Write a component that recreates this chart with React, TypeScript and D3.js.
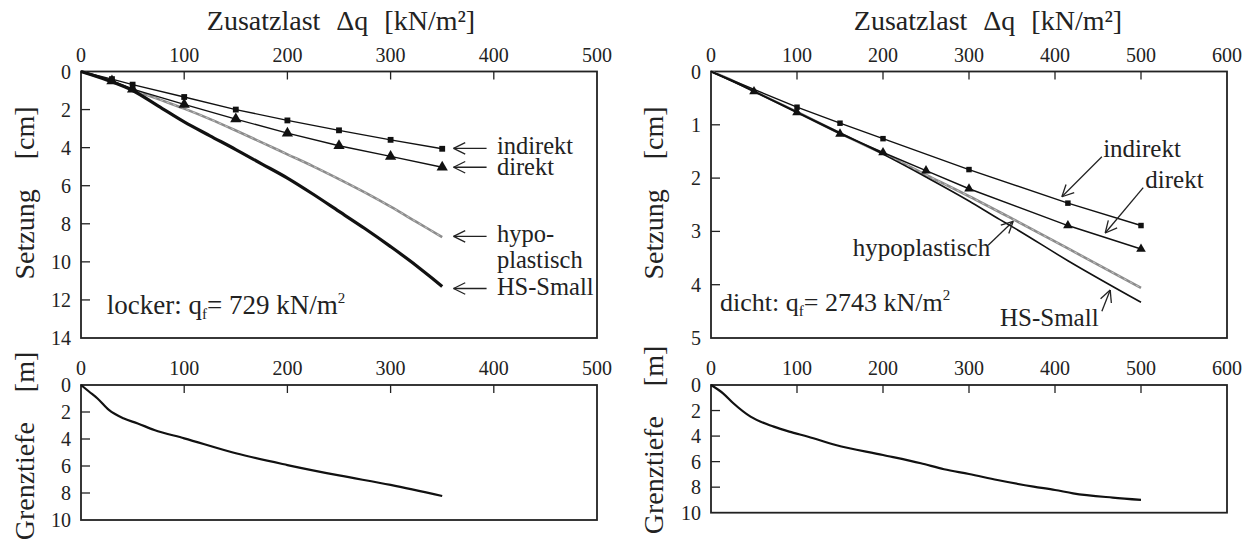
import React, { useEffect, useRef } from 'react';
import * as d3 from 'd3';

// ---------- DATA ----------
// locker (loose) – settlement [cm] vs additional load [kN/m²]
const lockerIndirektQ = [0, 30, 50, 100, 150, 200, 250, 300, 350];
const lockerIndirektS = [0, 0.4, 0.69, 1.34, 2.0, 2.57, 3.09, 3.59, 4.06];
const lockerDirektQ = [0, 30, 50, 100, 150, 200, 250, 300, 350];
const lockerDirektS = [0, 0.5, 0.93, 1.73, 2.5, 3.24, 3.9, 4.46, 5.03];
const lockerHypoQ = [0, 25, 50, 75, 100, 125, 150, 175, 200, 225, 250, 275, 300, 325, 350];
const lockerHypoS = [0, 0.42, 0.95, 1.45, 1.95, 2.5, 3.1, 3.72, 4.35, 4.98, 5.65, 6.35, 7.1, 7.9, 8.7];
const lockerHSQ = [0, 25, 50, 75, 100, 125, 150, 175, 200, 225, 250, 275, 300, 325, 340, 350];
const lockerHSS = [0, 0.45, 1.0, 1.82, 2.65, 3.38, 4.1, 4.85, 5.6, 6.45, 7.35, 8.25, 9.2, 10.2, 10.85, 11.3];
// locker – Grenztiefe [m]
const lockerGrenzQ = [0, 8, 16, 27, 41, 55, 71, 100, 150, 200, 250, 300, 350];
const lockerGrenzD = [0, 0.5, 1.0, 1.85, 2.47, 2.85, 3.33, 3.95, 5.06, 5.93, 6.7, 7.4, 8.22];

// dicht (dense)
const dichtIndirektQ = [0, 100, 150, 200, 300, 415, 500];
const dichtIndirektS = [0, 0.67, 0.97, 1.26, 1.84, 2.47, 2.89];
const dichtDirektQ = [0, 50, 100, 150, 200, 250, 300, 415, 500];
const dichtDirektS = [0, 0.375, 0.77, 1.17, 1.52, 1.86, 2.2, 2.89, 3.33];
const dichtHypoQ = [0, 25, 50, 100, 150, 200, 250, 300, 350, 415, 500];
const dichtHypoS = [0, 0.17, 0.37, 0.76, 1.16, 1.54, 1.94, 2.34, 2.76, 3.32, 4.06];
const dichtHSQ = [0, 25, 50, 100, 150, 200, 250, 300, 336, 350, 415, 500];
const dichtHSS = [0, 0.18, 0.37, 0.76, 1.15, 1.55, 1.98, 2.43, 2.78, 2.91, 3.55, 4.33];
const dichtGrenzQ = [0, 14, 26, 46, 73, 91, 113, 145, 200, 244, 271, 300, 333, 375, 400, 421, 467, 500];
const dichtGrenzD = [0, 0.65, 1.43, 2.48, 3.26, 3.65, 4.05, 4.7, 5.48, 6.13, 6.6, 6.97, 7.44, 7.96, 8.22, 8.48, 8.82, 9.0];

// tick labels
const lockerXTicks = [0, 100, 200, 300, 400, 500];
const dichtXTicks = [0, 100, 200, 300, 400, 500, 600];
const lockerSTicks = [0, 2, 4, 6, 8, 10, 12, 14];
const dichtSTicks = [0, 1, 2, 3, 4, 5];
const grenzTicks = [0, 2, 4, 6, 8, 10];

// text
const xTitle = ['Zusatzlast', 'Δq', '[kN/m²]'];
const sTitle = ['Setzung', '[cm]'];
const gTitle = ['Grenztiefe', '[m]'];

const FONT = "'Liberation Serif', serif";

const zip = (a: number[], b: number[]) => a.map((v, i) => [v, b[i]] as [number, number]);

type Frame = { x0: number; x1: number; y0: number; y1: number; xmax: number; ymax: number; yticks: number[]; xticks: number[] };

function drawFrame(g: any, f: Frame) {
  const x = d3.scaleLinear().domain([0, f.xmax]).range([f.x0, f.x1]);
  const y = d3.scaleLinear().domain([0, f.ymax]).range([f.y0, f.y1]);
  f.xticks.filter((t) => t > 0 && t < f.xmax).forEach((t) => {
    g.append('line').attr('x1', x(t)).attr('x2', x(t)).attr('y1', f.y0).attr('y2', f.y0 + 8)
      .attr('stroke', '#222').attr('stroke-width', 1.3);
  });
  f.yticks.filter((t) => t > 0 && t < f.ymax).forEach((t) => {
    g.append('line').attr('x1', f.x0).attr('x2', f.x0 + 9).attr('y1', y(t)).attr('y2', y(t))
      .attr('stroke', '#222').attr('stroke-width', 1.3);
  });
  g.append('rect').attr('x', f.x0).attr('y', f.y0).attr('width', f.x1 - f.x0).attr('height', f.y1 - f.y0)
    .attr('fill', 'none').attr('stroke', '#222').attr('stroke-width', 1.8);
  f.xticks.forEach((t) => {
    g.append('text').attr('x', x(t)).attr('y', f.y0 - 10).attr('text-anchor', 'middle')
      .style('font-family', FONT).attr('font-size', 20).attr('fill', '#222').text(String(t));
  });
  f.yticks.forEach((t) => {
    g.append('text').attr('x', f.x0 - 10).attr('y', y(t)).attr('dy', '0.35em').attr('text-anchor', 'end')
      .style('font-family', FONT).attr('font-size', 20).attr('fill', '#222').text(String(t));
  });
  return { x, y };
}

function arrow(g: any, x1: number, y1: number, x2: number, y2: number) {
  g.append('line').attr('x1', x1).attr('y1', y1).attr('x2', x2).attr('y2', y2)
    .attr('stroke', '#222').attr('stroke-width', 1.3);
  const ang = Math.atan2(y1 - y2, x1 - x2);
  const L = 13, a = 0.46;
  [ang + a, ang - a].forEach((b) => {
    g.append('line').attr('x1', x2).attr('y1', y2)
      .attr('x2', x2 + L * Math.cos(b)).attr('y2', y2 + L * Math.sin(b))
      .attr('stroke', '#222').attr('stroke-width', 1.3);
  });
}

function label(g: any, x: number, y: number, txt: string, anchor = 'start', size = 25) {
  g.append('text').attr('x', x).attr('y', y).attr('dy', '0.33em').attr('text-anchor', anchor)
    .style('font-family', FONT).attr('font-size', size).attr('fill', '#222').text(txt);
}

function title(g: any, cx: number, baseline: number) {
  const t = g.append('text').attr('x', cx).attr('y', baseline).attr('text-anchor', 'middle')
    .style('font-family', FONT).attr('font-size', 28).attr('fill', '#222');
  t.append('tspan').text(xTitle[0]);
  t.append('tspan').attr('dx', 16).text(xTitle[1]);
  t.append('tspan').attr('dx', 16).text(xTitle[2]);
}

function vtitle(g: any, bx: number, cy: number, parts: string[], gap: number) {
  const t = g.append('text').attr('transform', `translate(${bx},${cy}) rotate(-90)`).attr('text-anchor', 'middle')
    .style('font-family', FONT).attr('font-size', 28).attr('fill', '#222');
  t.append('tspan').text(parts[0]);
  t.append('tspan').attr('dx', gap).text(parts[1]);
}

function qfLabel(g: any, x: number, y: number, pre: string, val: string, size: number) {
  const t = g.append('text').attr('x', x).attr('y', y).style('font-family', FONT).attr('font-size', size).attr('fill', '#222');
  t.append('tspan').text(pre + ' q');
  t.append('tspan').attr('font-size', 15).attr('dy', 5).text('f');
  t.append('tspan').attr('dy', -5).text('= ' + val + ' kN/m');
  t.append('tspan').attr('font-size', 15).attr('dy', -11).text('2');
}

export default function App() {
  const ref = useRef<SVGSVGElement>(null);
  useEffect(() => {
    const svg = d3.select(ref.current);
    svg.selectAll('*').remove();
    const g = svg.append('g');

    const line = (x: any, y: any) => d3.line<[number, number]>().x((d) => x(d[0])).y((d) => y(d[1]));
    const smooth = (x: any, y: any) => d3.line<[number, number]>().x((d) => x(d[0])).y((d) => y(d[1])).curve(d3.curveMonotoneX);

    // ===== LEFT TOP (locker) =====
    const L = drawFrame(g, { x0: 81, x1: 597, y0: 71.5, y1: 338, xmax: 500, ymax: 14, yticks: lockerSTicks, xticks: lockerXTicks });
    title(g, 341, 30);
    vtitle(g, 34, 193, sTitle, 30);
    g.append('path').attr('d', smooth(L.x, L.y)(zip(lockerHypoQ, lockerHypoS))).attr('fill', 'none')
      .attr('stroke', '#8c8c8c').attr('stroke-width', 2.6);
    g.append('path').attr('d', smooth(L.x, L.y)(zip(lockerHypoQ, lockerHypoS))).attr('fill', 'none')
      .attr('stroke', '#cfcfcf').attr('stroke-width', 0.8).attr('stroke-dasharray', '3 4');
    g.append('path').attr('d', smooth(L.x, L.y)(zip(lockerHSQ, lockerHSS))).attr('fill', 'none')
      .attr('stroke', '#111').attr('stroke-width', 3.2);
    g.append('path').attr('d', line(L.x, L.y)(zip(lockerIndirektQ, lockerIndirektS))).attr('fill', 'none')
      .attr('stroke', '#111').attr('stroke-width', 1.4);
    g.append('path').attr('d', line(L.x, L.y)(zip(lockerDirektQ, lockerDirektS))).attr('fill', 'none')
      .attr('stroke', '#111').attr('stroke-width', 1.4);
    zip(lockerIndirektQ, lockerIndirektS).slice(1).forEach(([q, s]) => {
      g.append('path').attr('d', d3.symbol().type(d3.symbolSquare).size(34)()).attr('transform', `translate(${L.x(q)},${L.y(s)})`).attr('fill', '#111');
    });
    zip(lockerDirektQ, lockerDirektS).slice(1).forEach(([q, s]) => {
      g.append('path').attr('d', d3.symbol().type(d3.symbolTriangle).size(55)()).attr('transform', `translate(${L.x(q)},${L.y(s)})`).attr('fill', '#111');
    });
    const lEnds = [
      { s: 4.04, ds: -2, txt: 'indirekt' },
      { s: 5.03, ds: 0, txt: 'direkt' },
      { s: 8.66, ds: -2, txt: 'hypo-' },
      { s: 11.4, ds: -2, txt: 'HS-Small' },
    ];
    lEnds.forEach((e) => {
      arrow(g, L.x(393), L.y(e.s), L.x(361), L.y(e.s));
      label(g, L.x(403), L.y(e.s) + e.ds, e.txt, 'start', 24.5);
    });
    label(g, L.x(403), L.y(10.0) - 2, 'plastisch', 'start', 24.5);
    qfLabel(g, L.x(25), L.y(12.75), 'locker:', '729', 27);

    // ===== LEFT BOTTOM =====
    const LB = drawFrame(g, { x0: 81, x1: 597, y0: 385, y1: 520, xmax: 500, ymax: 10, yticks: grenzTicks, xticks: lockerXTicks });
    vtitle(g, 34, 446, gTitle, 30);
    g.append('path').attr('d', smooth(LB.x, LB.y)(zip(lockerGrenzQ, lockerGrenzD))).attr('fill', 'none')
      .attr('stroke', '#111').attr('stroke-width', 2.2);

    // ===== RIGHT TOP (dicht) =====
    const R = drawFrame(g, { x0: 711, x1: 1227, y0: 71.5, y1: 338, xmax: 600, ymax: 5, yticks: dichtSTicks, xticks: dichtXTicks });
    title(g, 988, 30);
    vtitle(g, 663, 193, sTitle, 30);
    g.append('path').attr('d', smooth(R.x, R.y)(zip(dichtHypoQ, dichtHypoS))).attr('fill', 'none')
      .attr('stroke', '#8c8c8c').attr('stroke-width', 2.6);
    g.append('path').attr('d', smooth(R.x, R.y)(zip(dichtHypoQ, dichtHypoS))).attr('fill', 'none')
      .attr('stroke', '#cfcfcf').attr('stroke-width', 0.8).attr('stroke-dasharray', '3 4');
    g.append('path').attr('d', smooth(R.x, R.y)(zip(dichtHSQ, dichtHSS))).attr('fill', 'none')
      .attr('stroke', '#111').attr('stroke-width', 1.6);
    g.append('path').attr('d', line(R.x, R.y)(zip(dichtIndirektQ, dichtIndirektS))).attr('fill', 'none')
      .attr('stroke', '#111').attr('stroke-width', 1.4);
    g.append('path').attr('d', line(R.x, R.y)(zip(dichtDirektQ, dichtDirektS))).attr('fill', 'none')
      .attr('stroke', '#111').attr('stroke-width', 1.4);
    zip(dichtIndirektQ, dichtIndirektS).slice(1).forEach(([q, s]) => {
      g.append('path').attr('d', d3.symbol().type(d3.symbolSquare).size(30)()).attr('transform', `translate(${R.x(q)},${R.y(s)})`).attr('fill', '#111');
    });
    zip(dichtDirektQ, dichtDirektS).slice(1).forEach(([q, s]) => {
      g.append('path').attr('d', d3.symbol().type(d3.symbolTriangle).size(40)()).attr('transform', `translate(${R.x(q)},${R.y(s)})`).attr('fill', '#111');
    });
    label(g, R.x(456), R.y(1.44), 'indirekt');
    arrow(g, R.x(454.5), R.y(1.6), R.x(408), R.y(2.35));
    label(g, R.x(505), R.y(2.03), 'direkt');
    arrow(g, R.x(502.6), R.y(2.18), R.x(458.4), R.y(3.03));
    label(g, R.x(324.6), R.y(3.31), 'hypoplastisch', 'end');
    arrow(g, R.x(322.3), R.y(3.26), R.x(351.4), R.y(2.81));
    label(g, R.x(336), R.y(4.62), 'HS-Small');
    arrow(g, R.x(454.5), R.y(4.5), R.x(464.2), R.y(4.1));
    qfLabel(g, R.x(10.5), R.y(4.5), 'dicht:', '2743', 26);

    // ===== RIGHT BOTTOM =====
    const RB = drawFrame(g, { x0: 711, x1: 1227, y0: 385, y1: 512.7, xmax: 600, ymax: 10, yticks: grenzTicks, xticks: dichtXTicks });
    vtitle(g, 663, 440, gTitle, 30);
    g.append('path').attr('d', smooth(RB.x, RB.y)(zip(dichtGrenzQ, dichtGrenzD))).attr('fill', 'none')
      .attr('stroke', '#111').attr('stroke-width', 2.2);
  }, []);
  return (
    <svg ref={ref} width={1258} height={545}
      style={{ position: 'absolute', left: 0, top: 0, background: '#fff', display: 'block' }} />
  );
}
